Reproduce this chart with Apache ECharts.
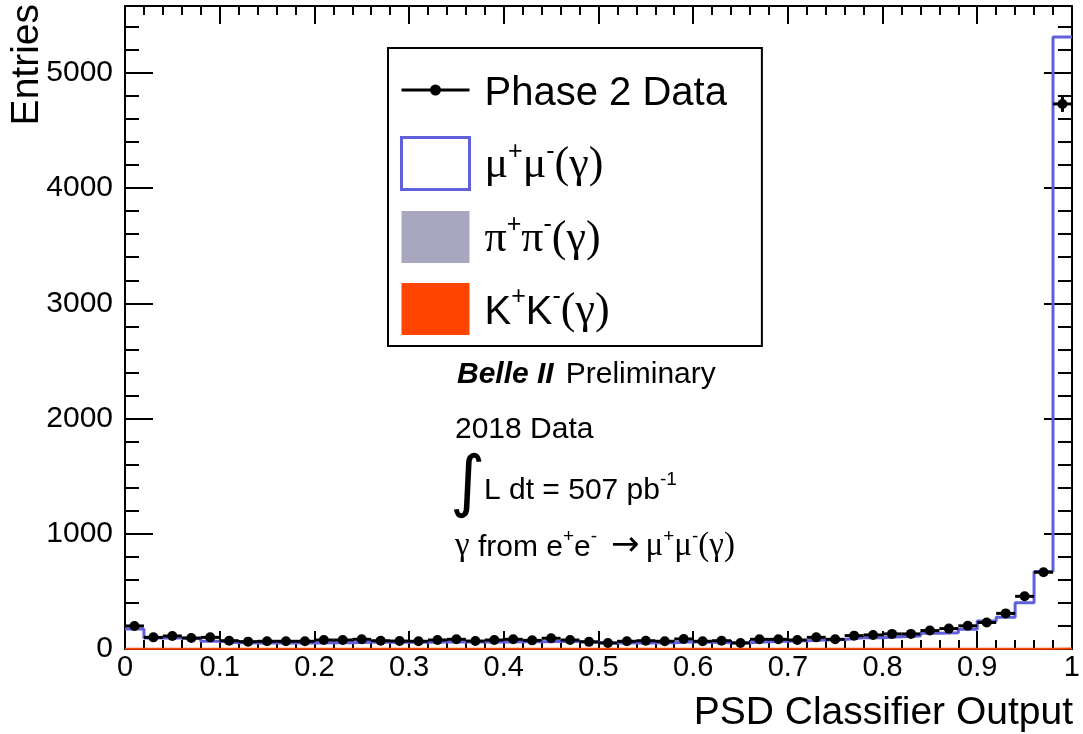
<!DOCTYPE html>
<html>
<head>
<meta charset="utf-8">
<script src="https://cdn.jsdelivr.net/npm/echarts@6/dist/echarts.min.js"></script>
<style>
html, body { margin: 0; padding: 0; background: #fff; }
#ec { width: 1083px; height: 734px; }
</style>
</head>
<body>
<div id="ec"></div>
<script>
// bins of the PSD classifier output, 50 bins of 0.02
var binLow = [0, 0.02, 0.04, 0.06, 0.08, 0.1, 0.12, 0.14, 0.16, 0.18,
  0.2, 0.22, 0.24, 0.26, 0.28, 0.3, 0.32, 0.34, 0.36, 0.38,
  0.4, 0.42, 0.44, 0.46, 0.48, 0.5, 0.52, 0.54, 0.56, 0.58,
  0.6, 0.62, 0.64, 0.66, 0.68, 0.7, 0.72, 0.74, 0.76, 0.78,
  0.8, 0.82, 0.84, 0.86, 0.88, 0.9, 0.92, 0.94, 0.96, 0.98];
var binWidth = 0.02;

// Phase 2 data (points)
var dataVals = [200, 101, 113, 95, 101, 72, 64, 67, 67, 67,
  78, 78, 84, 72, 69, 67, 78, 84, 69, 78,
  84, 75, 93, 78, 62, 52, 67, 72, 67, 87,
  67, 72, 52, 84, 84, 78, 101, 84, 116, 122,
  131, 131, 160, 177, 201, 230, 309, 457, 666, 4730];

// MC: K+K-, pi+pi- (both tiny) and the mu+mu- total outline
var kkVals = [3, 2, 2, 2, 2, 2, 2, 2, 2, 2,
  2, 2, 2, 2, 2, 2, 2, 2, 2, 2,
  2, 2, 2, 2, 2, 2, 2, 2, 2, 2,
  2, 2, 2, 2, 2, 2, 2, 2, 2, 2,
  2, 2, 2, 2, 2, 2, 2, 2, 3, 4];
var pipiVals = [1, 1, 1, 1, 1, 1, 1, 1, 1, 1,
  1, 1, 1, 1, 1, 1, 1, 1, 1, 1,
  1, 1, 1, 1, 1, 1, 1, 1, 1, 1,
  1, 1, 1, 1, 1, 1, 1, 1, 1, 1,
  1, 1, 1, 1, 1, 1, 1, 1, 2, 3];
var mumuVals = [174, 95, 95, 92, 68, 55, 52, 52, 52, 52,
  55, 55, 58, 58, 58, 58, 60, 60, 60, 60,
  62, 62, 65, 65, 58, 52, 52, 52, 55, 62,
  58, 55, 55, 62, 68, 72, 78, 82, 98, 98,
  107, 113, 136, 142, 171, 243, 275, 402, 673, 5310];

var xTickLabels = ['0', '0.1', '0.2', '0.3', '0.4', '0.5', '0.6', '0.7', '0.8', '0.9', '1'];
var yTickLabels = ['0', '1000', '2000', '3000', '4000', '5000'];
var yMax = 5580;

var FONT = '"Liberation Sans", Arial, Helvetica, sans-serif';
var SERIF = '"Liberation Serif", "DejaVu Serif", serif';
var BLUE = '#6060dd';
var GREY = '#a9a6c0';
var ORANGE = '#ff4400';

function steps(vals) {
  var pts = vals.map(function (v, i) { return [binLow[i], v]; });
  pts.push([binLow[vals.length - 1] + binWidth, vals[vals.length - 1]]);
  return pts;
}

var myChart = echarts.init(document.getElementById('ec'));

var pointData = dataVals.map(function (v, i) { return [binLow[i] + binWidth / 2, v]; });
var errData = dataVals.map(function (v, i) { return [binLow[i] + binWidth / 2, v, Math.sqrt(v)]; });

var tickLine = { color: '#000', width: 2 };

function xAxisDef(pos, labels) {
  return {
    type: 'value', min: 0, max: 1, interval: 0.1, position: pos,
    axisLine: { show: true, onZero: false, lineStyle: tickLine },
    axisTick: { inside: true, length: 18, lineStyle: tickLine },
    minorTick: { show: true, splitNumber: 5, length: 9, lineStyle: tickLine },
    axisLabel: {
      show: labels, margin: 4, fontSize: 29, color: '#000', fontFamily: FONT,
      formatter: function (v) { return xTickLabels[Math.round(v * 10)]; }
    },
    splitLine: { show: false }, minorSplitLine: { show: false }
  };
}

function yAxisDef(pos, step, len, labels) {
  return {
    type: 'value', min: 0, max: yMax, interval: step, position: pos,
    axisLine: { show: step === 1000, onZero: false, lineStyle: tickLine },
    axisTick: { inside: true, length: len, lineStyle: tickLine },
    axisLabel: {
      show: labels, margin: 12, fontSize: 30, color: '#000', fontFamily: FONT,
      showMaxLabel: false,
      formatter: function (v) { return v % 1000 === 0 ? yTickLabels[v / 1000] : ''; }
    },
    splitLine: { show: false }
  };
}

var legendText = {
  data: '{t|Phase 2 Data}',
  mumu: '{g|μ}{s|+}{g|μ}{s|-}{g|(γ)}',
  pipi: '{g|π}{s|+}{g|π}{s|-}{g|(γ)}',
  kk: '{t|K}{s|+}{t|K}{s|-}{g|(γ)}'
};

var dataIcon = 'path://M0,0h0.1v0.1h-0.1z M0,24.5h68v3h-68z M34,20.5a5.5,5.5 0 1,1 -0.01,0z M67.9,51.9h0.1v0.1h-0.1z';

var rich = {
  t: { fontFamily: FONT, fontSize: 30, lineHeight: 36, verticalAlign: 'bottom' },
  p: { fontFamily: FONT, fontSize: 30, lineHeight: 36, verticalAlign: 'bottom', padding: [0, 0, 0, 12] },
  g: { fontFamily: SERIF, fontSize: 33, lineHeight: 36, verticalAlign: 'bottom' },
  a: { fontFamily: '"DejaVu Sans", sans-serif', fontSize: 34, lineHeight: 36, verticalAlign: 'bottom', padding: [0, 6, 0, 14] },
  s: { fontFamily: FONT, fontSize: 19, lineHeight: 30, verticalAlign: 'top' },
  b: { fontFamily: FONT, fontSize: 30, fontWeight: 'bold', fontStyle: 'italic', lineHeight: 36, verticalAlign: 'bottom' }
};

var option = {
  animation: false,
  backgroundColor: '#fff',
  grid: { left: 125, right: 8, top: 6, bottom: 85 },
  xAxis: [xAxisDef('bottom', true), xAxisDef('top', false)],
  yAxis: [
    yAxisDef('left', 1000, 28, true),
    yAxisDef('left', 200, 14, false),
    yAxisDef('right', 1000, 28, false),
    yAxisDef('right', 200, 14, false)
  ],
  legend: {
    orient: 'vertical', left: 388, top: 48,
    padding: [16, 35, 11, 12],
    itemWidth: 68, itemHeight: 52, itemGap: 20,
    borderColor: '#000', borderWidth: 2, backgroundColor: '#fff',
    selectedMode: false,
    data: [
      { name: 'data', icon: dataIcon, itemStyle: { color: '#000', borderWidth: 0 } },
      { name: 'mumu', icon: 'rect', itemStyle: { color: '#fff', borderColor: BLUE, borderWidth: 3 } },
      { name: 'pipi', icon: 'rect', itemStyle: { color: GREY, borderWidth: 0 } },
      { name: 'kk', icon: 'rect', itemStyle: { color: ORANGE, borderWidth: 0 } }
    ],
    formatter: function (name) { return legendText[name]; },
    textStyle: {
      color: '#000', fontFamily: FONT, fontSize: 40, padding: [0, 0, 0, 10],
      rich: {
        t: { fontFamily: FONT, fontSize: 40, lineHeight: 48, verticalAlign: 'bottom' },
        g: { fontFamily: SERIF, fontSize: 44, lineHeight: 48, verticalAlign: 'bottom' },
        s: { fontFamily: FONT, fontSize: 25, lineHeight: 36, verticalAlign: 'top' }
      }
    }
  },
  series: [
    {
      name: 'pipi', type: 'line', step: 'end', symbol: 'none',
      data: steps(pipiVals), color: GREY,
      lineStyle: { color: GREY, width: 0 }, areaStyle: { color: GREY, opacity: 1 }, z: 2
    },
    {
      name: 'kk', type: 'line', step: 'end', symbol: 'none',
      data: steps(kkVals), color: ORANGE,
      lineStyle: { color: ORANGE, width: 2 }, areaStyle: { color: ORANGE, opacity: 1 }, z: 2
    },
    {
      name: 'mumu', type: 'line', step: 'end', symbol: 'none',
      data: steps(mumuVals), color: BLUE,
      lineStyle: { color: BLUE, width: 3 }, z: 3
    },
    {
      name: 'errors', type: 'custom', data: errData, z: 4,
      renderItem: function (params, api) {
        var x = api.value(0), y = api.value(1), e = api.value(2);
        var l = api.coord([x - binWidth / 2, y]), r = api.coord([x + binWidth / 2, y]);
        var b = api.coord([x, y - e]), t = api.coord([x, y + e]);
        var st = { stroke: '#000', lineWidth: 3 };
        return {
          type: 'group', children: [
            { type: 'line', shape: { x1: l[0], y1: l[1], x2: r[0], y2: r[1] }, style: st },
            { type: 'line', shape: { x1: b[0], y1: b[1], x2: t[0], y2: t[1] }, style: st }
          ]
        };
      }
    },
    {
      name: 'data', type: 'line', data: pointData, symbol: 'circle', symbolSize: 10,
      color: '#000', itemStyle: { color: '#000' }, lineStyle: { opacity: 0, width: 0 }, z: 5
    }
  ],
  graphic: [
    { type: 'text', x: 27, y: 4, rotation: Math.PI / 2,
      style: { text: 'Entries', fontFamily: FONT, fontSize: 39, fill: '#000', align: 'right', verticalAlign: 'middle' } },
    { type: 'text', x: 1073, y: 713,
      style: { text: 'PSD Classifier Output', fontFamily: FONT, fontSize: 39, fill: '#000', align: 'right', verticalAlign: 'middle' } },
    { type: 'text', x: 457, y: 372,
      style: { text: '{b|Belle II}{p|Preliminary}', rich: rich, fill: '#000', verticalAlign: 'middle' } },
    { type: 'text', x: 455, y: 430,
      style: { text: '2018 Data', fontFamily: FONT, fontSize: 30, fill: '#000', verticalAlign: 'middle' } },
    { type: 'text', x: 450, y: 486,
      style: { text: '∫', fontFamily: '"DejaVu Sans", sans-serif', fontSize: 68, fill: '#000', verticalAlign: 'middle' } },
    { type: 'text', x: 484, y: 488,
      style: { text: '{t|L dt = 507 pb}{s|-1}', rich: rich, fill: '#000', verticalAlign: 'middle' } },
    { type: 'text', x: 455, y: 545,
      style: { text: '{g|γ}{t| from e}{s|+}{t|e}{s|-}{a|→}{g|μ}{s|+}{g|μ}{s|-}{g|(γ)}', rich: rich, fill: '#000', verticalAlign: 'middle' } }
  ]
};

myChart.setOption(option);
</script>
</body>
</html>
